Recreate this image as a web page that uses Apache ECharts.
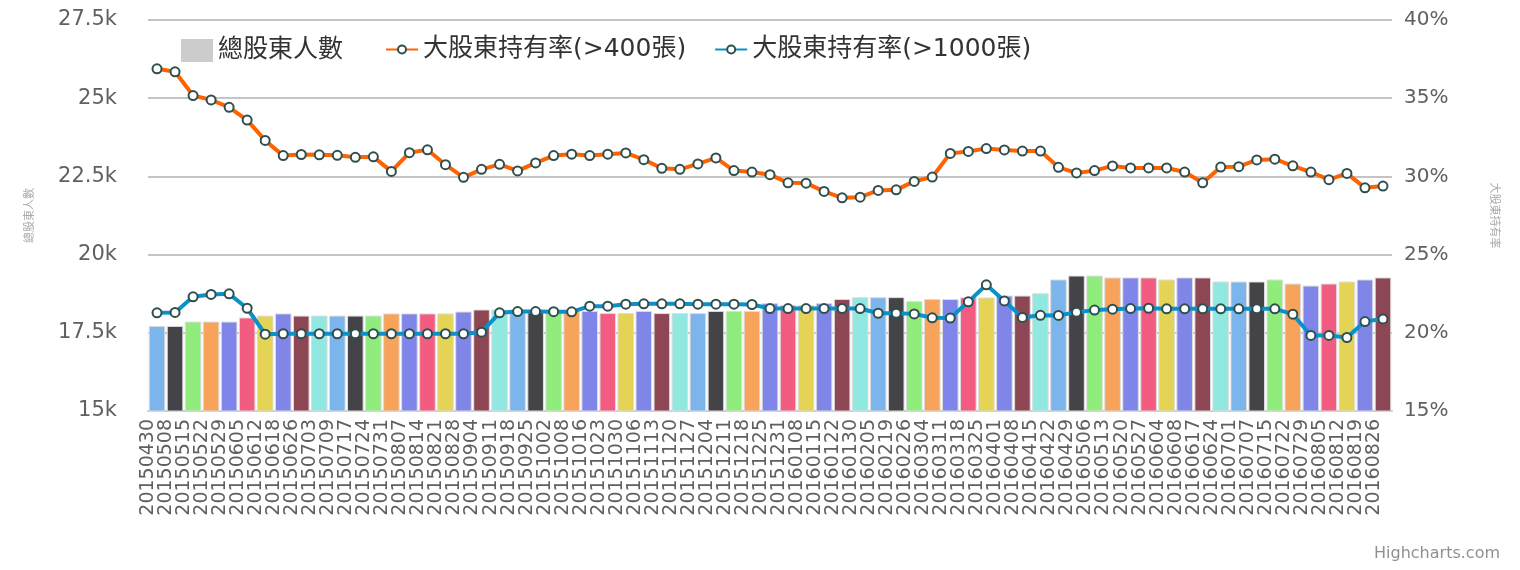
<!DOCTYPE html>
<html>
<head>
<meta charset="utf-8">
<script src="https://cdn.jsdelivr.net/npm/echarts@6/dist/echarts.min.js"></script>
<style>html,body{margin:0;padding:0;background:#fff}#c{width:1520px;height:570px}</style>
</head>
<body>
<div id="c"></div>
<script>
const categories = ['20150430','20150508','20150515','20150522','20150529','20150605','20150612','20150618','20150626','20150703','20150709','20150717','20150724','20150731','20150807','20150814','20150821','20150828','20150904','20150911','20150918','20150925','20151002','20151008','20151016','20151023','20151030','20151106','20151113','20151120','20151127','20151204','20151211','20151218','20151225','20151231','20160108','20160115','20160122','20160130','20160205','20160219','20160226','20160304','20160311','20160318','20160325','20160401','20160408','20160415','20160422','20160429','20160506','20160513','20160520','20160527','20160604','20160608','20160617','20160624','20160701','20160707','20160715','20160722','20160729','20160805','20160812','20160819','20160826'];
const holders = [17720,17720,17860,17860,17860,17990,18050,18120,18050,18050,18050,18050,18050,18120,18120,18120,18120,18180,18245,18245,18245,18200,18220,18200,18200,18130,18130,18200,18130,18130,18130,18200,18200,18200,18450,18385,18385,18450,18580,18640,18640,18640,18515,18580,18580,18635,18630,18690,18690,18765,19205,19330,19330,19270,19270,19270,19205,19270,19270,19140,19140,19140,19205,19075,19010,19075,19140,19205,19270];
const ratio400 = [36.88,36.69,35.17,34.89,34.42,33.60,32.30,31.33,31.40,31.38,31.35,31.22,31.25,30.32,31.52,31.70,30.75,29.94,30.45,30.77,30.35,30.86,31.33,31.42,31.33,31.42,31.50,31.07,30.52,30.45,30.80,31.18,30.37,30.28,30.11,29.59,29.57,29.04,28.63,28.67,29.10,29.14,29.68,29.96,31.47,31.60,31.78,31.69,31.62,31.62,30.58,30.22,30.37,30.67,30.54,30.54,30.54,30.28,29.59,30.60,30.62,31.05,31.10,30.68,30.28,29.79,30.19,29.27,29.38];
const ratio1000 = [21.28,21.30,22.30,22.45,22.49,21.57,19.91,19.94,19.94,19.94,19.94,19.94,19.94,19.94,19.94,19.94,19.94,19.94,20.04,21.28,21.36,21.36,21.35,21.34,21.70,21.70,21.83,21.85,21.85,21.85,21.83,21.83,21.83,21.81,21.55,21.55,21.55,21.55,21.55,21.55,21.25,21.25,21.21,20.96,20.94,21.98,23.07,22.04,20.98,21.12,21.11,21.32,21.45,21.51,21.55,21.57,21.53,21.53,21.53,21.53,21.53,21.53,21.53,21.19,19.83,19.83,19.70,20.72,20.89];
const leftTicks = ['15k','17.5k','20k','22.5k','25k','27.5k'];
const seriesNames = ['總股東人數','大股東持有率(>400張)','大股東持有率(>1000張)'];
const rightAxisName = '大股東持有率';
const palette = ['#7cb5ec','#434348','#90ed7d','#f7a35c','#8085e9','#f15c80','#e4d354','#8085e8','#8d4653','#91e8e1'];

const FONT = '"DejaVu Sans","Noto Sans CJK TC",sans-serif';
const chart = echarts.init(document.getElementById('c'), null, {renderer:'canvas'});
const markerStyle = {color:'#ffffff', borderColor:'#2f4f4f', borderWidth:2};
const legendText = {fontSize:25, fontWeight:'normal', color:'#333333', fontFamily:FONT};
chart.setOption({
  animation:false,
  textStyle:{fontFamily:FONT},
  grid:{left:148, right:128, top:20, bottom:159, containLabel:false},
  legend:[
    {
      left:176, top:33, itemWidth:32, itemHeight:23, textStyle:legendText,
      data:[{name:seriesNames[0], icon:'rect', itemStyle:{color:'#cccccc', borderWidth:0}}]
    },
    {
      left:380, top:32, itemGap:28, itemWidth:32, itemHeight:10, textStyle:legendText,
      data:[{name:seriesNames[1]},{name:seriesNames[2]}]
    }
  ],
  xAxis:{
    type:'category', data:categories, boundaryGap:true,
    axisLine:{lineStyle:{color:'#C0D0E0', width:2}},
    axisTick:{length:10, lineStyle:{color:'#C0D0E0', width:1.5}},
    axisLabel:{interval:0, rotate:90, color:'#606060', fontSize:19, margin:8, fontFamily:FONT, lineHeight:18,
      formatter:function(v){ return v + '\n '; }}
  },
  yAxis:[
    {
      type:'value', min:15000, max:27500, interval:2500, position:'left',
      name:seriesNames[0], nameLocation:'middle', nameRotate:90, nameGap:112,
      nameTextStyle:{color:'#aaaaaa', fontSize:11, fontFamily:FONT},
      axisLine:{show:false}, axisTick:{show:false},
      axisLabel:{color:'#606060', fontSize:21, margin:31,
        formatter:function(v){ return leftTicks[Math.round((v-15000)/2500)]; }},
      splitLine:{lineStyle:{color:'#C4C4C4', width:2}}
    },
    {
      type:'value', min:15, max:40, interval:5, position:'right',
      name:rightAxisName, nameLocation:'middle', nameRotate:-90, nameGap:96,
      nameTextStyle:{color:'#aaaaaa', fontSize:11, fontFamily:FONT},
      axisLine:{show:false}, axisTick:{show:false},
      axisLabel:{color:'#606060', fontSize:20, margin:12, formatter:'{value}%'},
      splitLine:{show:false}
    }
  ],
  series:[
    {
      name:seriesNames[0], type:'bar', yAxisIndex:0, data:holders,
      barCategoryGap:'8%',
      itemStyle:{color:function(p){return palette[p.dataIndex % palette.length];}, borderColor:'#dddddd', borderWidth:1},
      z:1
    },
    {
      name:seriesNames[1], type:'line', yAxisIndex:1, data:ratio400,
      symbol:'circle', symbolSize:9, showAllSymbol:true,
      lineStyle:{color:'#ff6200', width:4},
      itemStyle:markerStyle, z:3
    },
    {
      name:seriesNames[2], type:'line', yAxisIndex:1, data:ratio1000,
      symbol:'circle', symbolSize:9, showAllSymbol:true,
      lineStyle:{color:'#0a91c9', width:4},
      itemStyle:markerStyle, z:3
    }
  ],
  graphic:[
    {type:'text', right:20, bottom:8, style:{text:'Highcharts.com', fill:'#909090', fontSize:16, fontFamily:FONT}}
  ]
});
</script>
</body>
</html>
